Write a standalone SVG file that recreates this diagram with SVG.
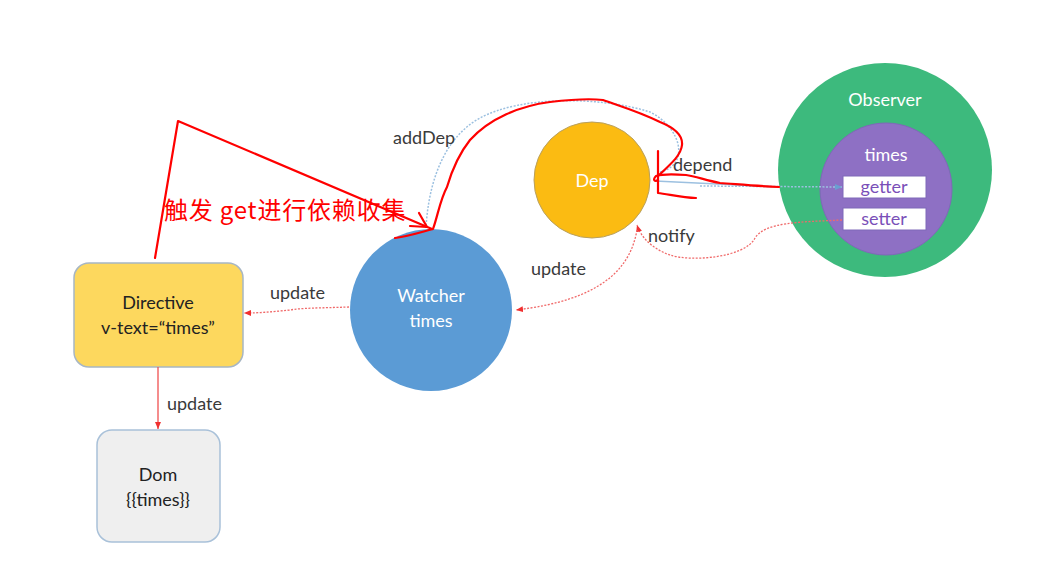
<svg xmlns="http://www.w3.org/2000/svg" width="1038" height="573" viewBox="0 0 1038 573">
<style>
.lbl{font-family:Lato,"Open Sans",sans-serif;font-size:18px;fill:#3a3a3a;}
.wt{font-family:Lato,"Open Sans",sans-serif;font-size:18px;fill:#fff;text-anchor:middle;}
.dk{font-family:Lato,"Open Sans",sans-serif;font-size:18px;fill:#222;text-anchor:middle;}
.pu{font-family:Lato,"Open Sans",sans-serif;font-size:18px;fill:#7a4fb8;text-anchor:middle;}
.rdot{fill:none;stroke:#f06a6a;stroke-width:1.3;stroke-dasharray:2 1.5;}
.bdot{fill:none;stroke:#9cc0e0;stroke-width:1.5;stroke-dasharray:2 1.5;}
.hand{fill:none;stroke:#f00;stroke-width:2.2;stroke-linecap:round;stroke-linejoin:round;}
</style>
<defs>
<marker id="ar" markerWidth="8" markerHeight="8" refX="7" refY="4" orient="auto" markerUnits="userSpaceOnUse"><path d="M0,1 L7,4 L0,7 z" fill="#f03030"/></marker>
<marker id="ab" markerWidth="8" markerHeight="8" refX="7" refY="4" orient="auto" markerUnits="userSpaceOnUse"><path d="M0,1 L7,4 L0,7 z" fill="#6a9fd0"/></marker>
</defs>
<rect width="1038" height="573" fill="#fff"/>

<g id="observer">
<circle cx="885" cy="170" r="107" fill="#3dba7d"/>
<text class="wt" x="885" y="106">Observer</text>
<circle cx="886" cy="189" r="66" fill="#8e70c4" stroke="#7f68b8"/>
<text class="wt" x="886" y="161">times</text>
<rect x="843" y="176" width="83" height="22" fill="#fff" stroke="#7f68b8"/>
<text class="pu" x="884" y="193">getter</text>
<rect x="843" y="208" width="83" height="22" fill="#fff" stroke="#7f68b8"/>
<text class="pu" x="884" y="225">setter</text>
</g>

<g id="dep">
<circle cx="592" cy="180" r="58" fill="#fbbb12" stroke="#b8a060"/>
<text class="wt" x="592" y="187">Dep</text>
</g>

<g id="watcher">
<circle cx="431" cy="310" r="81" fill="#5b9bd5"/>
<text class="wt" x="431" y="302">Watcher</text>
<text class="wt" x="431" y="327">times</text>
</g>

<g id="directive">
<rect x="74" y="263" width="169" height="104" rx="15" fill="#fdd85e" stroke="#a7b6c4" stroke-width="1.5"/>
<text class="dk" x="158" y="309">Directive</text>
<text class="dk" x="158" y="334">v-text=“times”</text>
</g>

<g id="dom">
<rect x="97" y="430" width="123" height="112" rx="15" fill="#efefef" stroke="#a9c1d9" stroke-width="1.5"/>
<text class="dk" x="158" y="481">Dom</text>
<text class="dk" x="158" y="506">{{times}}</text>
</g>

<g id="connectors">
<path d="M778,187 L655,181" fill="none" stroke="#9cc0e0" stroke-width="1.5"/>
<path class="bdot" d="M700,186 L842,187" marker-end="url(#ab)"/>
<path class="bdot" d="M660,172 C690,165 682,128 650,112 C600,96 520,96 480,118 C440,140 428,190 426,228"/>
<path class="rdot" d="M842,220 C800,222 765,222 755,238 C745,258 690,262 670,255 C650,248 640,235 637,225" marker-end="url(#ar)"/>
<path class="rdot" d="M637,230 C630,270 600,300 516,310" marker-end="url(#ar)"/>
<path class="rdot" d="M349,307 C320,308 300,308 290,310 C270,312 260,313 244,313" marker-end="url(#ar)"/>
<path d="M158,367 L158,429" stroke="#f05050" stroke-width="1.3" fill="none" marker-end="url(#ar)"/>
<text class="lbl" x="393" y="144">addDep</text>
<text class="lbl" x="673" y="171">depend</text>
<text class="lbl" x="648" y="242">notify</text>
<text class="lbl" x="531" y="275">update</text>
<text class="lbl" x="270" y="299">update</text>
<text class="lbl" x="167" y="410">update</text>
</g>

<g id="annotations">
<path class="hand" d="M155,258 L178,121 L432,229"/>
<path class="hand" d="M419,213 L427,227 L410,226"/>
<path class="hand" d="M395,238 C410,236 425,231 433,229 C438,215 440,200 447,187 C452,170 458,155 470,140 C490,118 520,106 550,102 C575,99 595,99 603,100 C620,106 640,112 660,122 C675,128 683,135 682,145 C681,155 672,163 658,176"/>
<path class="hand" d="M779,187 C755,186 735,184 720,183 C705,180 695,176 686,175 C672,174 662,174 656,176 C652,180 655,182 658,180"/>
<path class="hand" d="M658,151 L658,193 C668,194 682,198 696,198"/>
<text x="164" y="219" font-family="'Noto Sans CJK SC',sans-serif" font-size="24" letter-spacing="0.8" fill="#f00">触发 get进行依赖收集</text>
</g>
</svg>
